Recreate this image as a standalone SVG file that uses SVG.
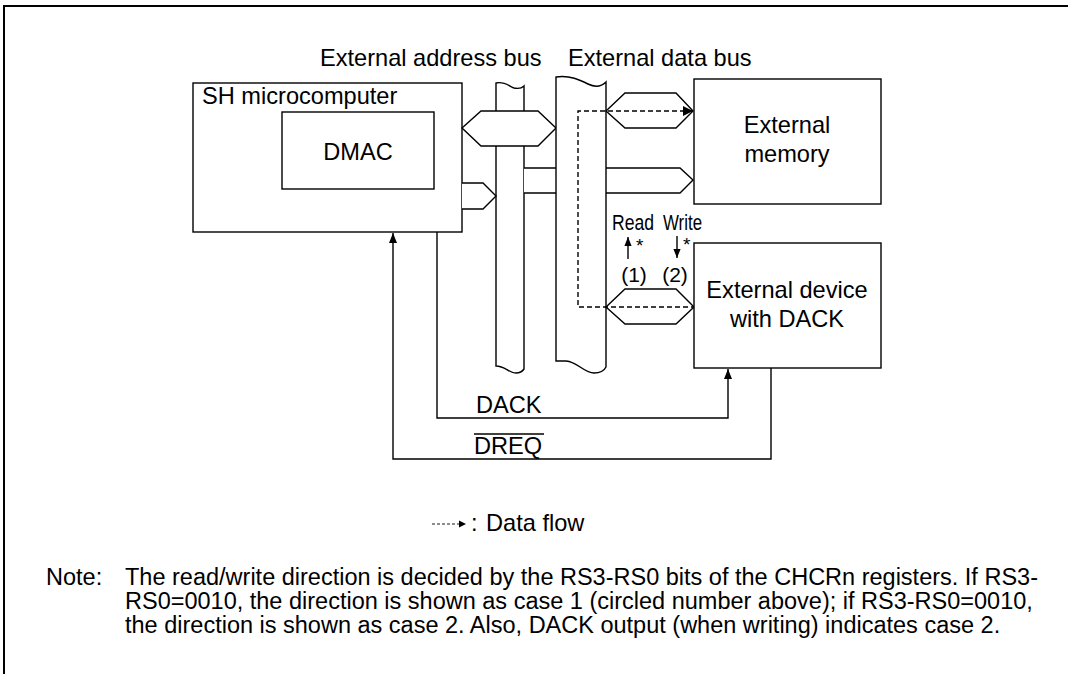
<svg xmlns="http://www.w3.org/2000/svg" width="1068" height="674" viewBox="0 0 1068 674">
<defs>
<style>
.t{font-family:"Liberation Sans",Arial,sans-serif;font-size:23.6px;fill:#000}
.n{font-family:"Liberation Sans",Arial,sans-serif;font-size:23.5px;fill:#000}
.s{font-family:"Liberation Sans",Arial,sans-serif;fill:#000}
.box{fill:#fff;stroke:#000;stroke-width:1.4}
.ln{fill:none;stroke:#000;stroke-width:1.4}
.bus{fill:#fff;stroke:#000;stroke-width:1.4}
.dash{fill:none;stroke:#000;stroke-width:1.4;stroke-dasharray:5,3}
</style>
<marker id="ah" viewBox="0 0 10 10" refX="10" refY="5" markerWidth="10" markerHeight="10" markerUnits="userSpaceOnUse" orient="auto">
<path d="M0,1 L10,5 L0,9 Z" fill="#000"/>
</marker>
<marker id="ahs" viewBox="0 0 10 10" refX="10" refY="5" markerWidth="9" markerHeight="9" markerUnits="userSpaceOnUse" orient="auto">
<path d="M0,1 L10,5 L0,9 Z" fill="#000"/>
</marker>
</defs>
<rect width="1068" height="674" fill="#fff"/>
<path d="M4,674 L4,6 L1068,6" fill="none" stroke="#000" stroke-width="2"/>

<text class="t" x="320" y="66">External address bus</text>
<text class="t" x="568" y="66">External data bus</text>

<g id="sh-microcomputer">
<rect class="box" x="193" y="83" width="269" height="149"/>
<text class="t" x="202" y="104">SH microcomputer</text>
</g>
<g id="dmac">
<rect class="box" x="282" y="112" width="152" height="77"/>
<text class="t" x="358" y="160" text-anchor="middle">DMAC</text>
</g>

<g id="address-bus">
<path class="bus" d="M496,83 C504,81 509,86 514,88 C519,89 522,88 524,86 L524,369 C522,372 519,373 516,373 C509,373 505,366 496,366 Z"/>
</g>

<g id="connectors">
<path class="box" d="M462,128 L481,111 L538,111 L556,128 L538,146 L481,146 Z"/>
<path class="box" d="M462,183 L483,183 L496,196 L483,209 L462,209"/>
<path class="box" d="M524,168 L680,168 L693,180 L680,193 L524,193"/>
</g>

<g id="data-bus">
<path class="bus" d="M556,77 C570,75 580,80 588,84 C596,88 602,86 606,82 L606,367 C604,371 600,373 594,373 C584,373 578,362 566,361 L556,361 Z"/>
</g>

<g id="connectors-2">
<path class="box" d="M606,111 L625,93 L676,93 L693,111 L676,128 L625,128 Z"/>
<path class="box" d="M606,307 L625,289 L676,289 L694,307 L676,324 L625,324 Z"/>
<path class="dash" d="M693,111 L578,111 L578,307 L694,307"/>
<path d="M683,106 L693,111 L683,116 Z" fill="#000"/>
<line class="ln" x1="628" y1="259" x2="628" y2="237" stroke-width="1.2" marker-end="url(#ahs)"/>
<line class="ln" x1="677" y1="236" x2="677" y2="258" stroke-width="1.2" marker-end="url(#ahs)"/>
<path class="ln" d="M437,232 L437,418 L728,418 L728,369" marker-end="url(#ah)"/>
<path class="ln" d="M771,368 L771,459 L393,459 L393,233" marker-end="url(#ah)"/>
</g>

<text class="s" x="612" y="230" font-size="22" textLength="42" lengthAdjust="spacingAndGlyphs">Read</text>
<text class="s" x="663" y="230" font-size="22" textLength="39" lengthAdjust="spacingAndGlyphs">Write</text>
<text class="s" x="636" y="252" font-size="19">*</text>
<text class="s" x="683" y="251" font-size="19">*</text>
<text class="s" x="634" y="282" font-size="21" text-anchor="middle">(1)</text>
<text class="s" x="675" y="282" font-size="21" text-anchor="middle">(2)</text>

<g id="external-memory">
<rect class="box" x="694" y="79" width="187" height="125"/>
<text class="t" x="787" y="133" text-anchor="middle">External</text>
<text class="t" x="787" y="162" text-anchor="middle">memory</text>
</g>

<g id="external-device">
<rect class="box" x="694" y="243" width="187" height="125"/>
<text class="t" x="787" y="298" text-anchor="middle">External device</text>
<text class="t" x="787" y="327" text-anchor="middle">with DACK</text>
</g>

<text class="t" x="476" y="413">DACK</text>
<text class="t" x="474" y="454">DREQ</text>
<line x1="474" y1="434" x2="544" y2="434" stroke="#000" stroke-width="1.4"/>

<g id="legend">
<line x1="432" y1="524" x2="459" y2="524" stroke="#000" stroke-width="0.9" stroke-dasharray="3,2"/>
<path d="M459,520.5 L466,524 L459,527.5 Z" fill="#000"/>
<text class="t" x="471" y="531">:</text>
<text class="t" x="486" y="531">Data flow</text>
</g>

<g id="note">
<text class="n" x="46" y="585">Note:</text>
<text class="n" x="125" y="585">The read/write direction is decided by the RS3-RS0 bits of the CHCRn registers. If RS3-</text>
<text class="n" x="125" y="609">RS0=0010, the direction is shown as case 1 (circled number above); if RS3-RS0=0010,</text>
<text class="n" x="125" y="633">the direction is shown as case 2. Also, DACK output (when writing) indicates case 2.</text>
</g>
</svg>
